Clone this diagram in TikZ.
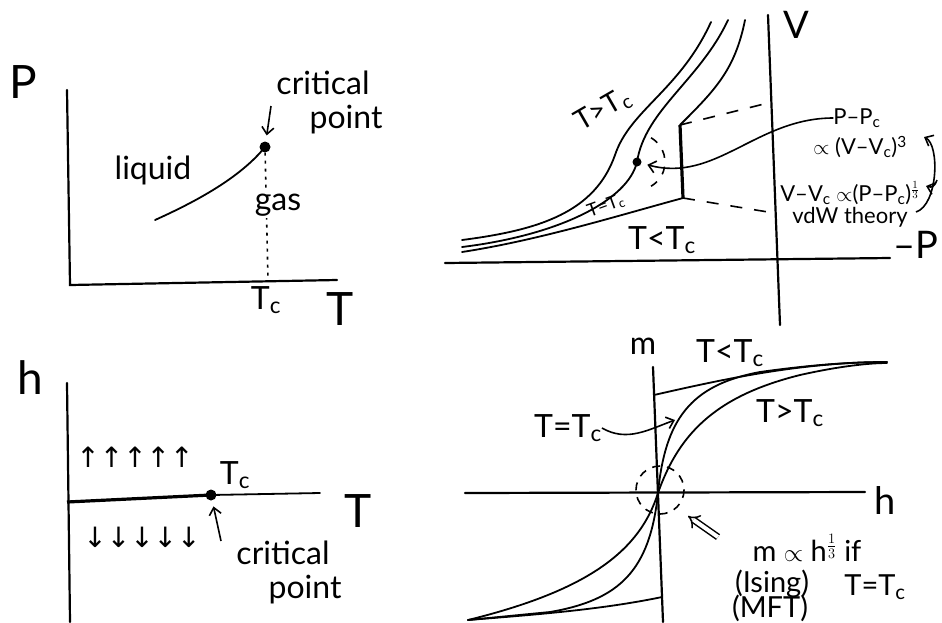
\documentclass[tikz,border=0pt]{standalone}
\usepackage{fontspec}
\setmainfont{Lato}
\newfontfamily\arrowfont{DejaVu Sans}
\usetikzlibrary{arrows.meta,positioning}

\begin{document}
\begin{tikzpicture}[
  x=1pt, y=-1pt,
  font=\fontsize{32}{34}\selectfont,
  inner sep=0pt,
  axis/.style={line width=2.2pt, line cap=round},
  curve/.style={line width=1.8pt, line cap=round},
  jump/.style={line width=3.2pt},
  guide/.style={line width=1.6pt, dash pattern=on 12pt off 12pt},
  dots/.style={line width=1.6pt, dash pattern=on 3pt off 5pt},
  dot/.style={circle, fill=black, minimum size=11pt},
  big/.style={font=\fontsize{46}{48}\selectfont},
  axisname/.style={font=\fontsize{38}{40}\selectfont},
  mid/.style={font=\fontsize{28}{30}\selectfont},
  note/.style={font=\fontsize{29}{31}\selectfont},
  small/.style={font=\fontsize{22}{24}\selectfont},
  tiny/.style={font=\fontsize{18}{20}\selectfont},
  spins/.style={font=\arrowfont\fontsize{28}{30}\selectfont},
  arrow/.style={-{Straight Barb[length=7pt, width=12pt]}, line width=1.6pt}
]
  \useasboundingbox (0,0) rectangle (942,622);

  % P--T plane
  \draw[axis] (67,90) -- (70,285) -- (337,280);
  \node[dot] (cp1) at (265,147) {};
  \draw[curve] (155,220) .. controls (195,202) and (240,178) .. (cp1.center);
  \draw[dots] (cp1) -- (268,280);
  \node[big] (P) at (23,82) {P};
  \node (liquid) at (153,170) {liquid};
  \node[fill=white, inner sep=2pt] (gas) at (278,205) {gas};
  \node (crit1) at (323,83) {critical};
  \node (point1) at (346,120) {point};
  \coordinate (tip1) at (271,106);
  \draw[arrow, shorten >=6pt] (tip1) -- (cp1);
  \node (Tc1) at (266,300) {T\textsubscript{c}};
  \node[big] (T1) at (340,309) {T};

  % isotherms, V against -P
  \draw[axis] (768,15) -- (780,325);
  \draw[axis] (445,263) -- (890,258);
  \node[axisname] (V) at (796,25) {V};
  \node[axisname] (mP) at (916,245) {--P};
  \draw[curve] (711,22) .. controls (680,90) and (630,110) .. (615,155)
    .. controls (595,212) and (540,230) .. (462,240);
  \node[dot, minimum size=9pt] (cp2) at (637,162) {};
  \draw[curve] (728,20) .. controls (700,80) and (645,110) .. (cp2.center)
    .. controls (628,200) and (560,235) .. (462,247);
  \draw[curve] (745,20) .. controls (735,70) and (715,90) .. (680,125);
  \draw[jump] (680,125) -- (683,198);
  \draw[curve] (683,198) .. controls (620,215) and (540,240) .. (462,252);
  \draw[guide] (680,125) -- (768,103);
  \draw[guide] (683,198) -- (768,212);
  \draw[guide, dash pattern=on 8pt off 9pt] (cp2) ++(-60:28) arc[start angle=-60, end angle=60, radius=28];
  \node[mid, rotate=30] (gt2) at (603,110) {T>T\textsubscript{c}};
  \node[tiny, rotate=20] (eq2) at (606,206) {T=T\textsubscript{c}};
  \node (lt2) at (662,240) {T<T\textsubscript{c}};
  \node[small] (ppc) at (857,118) {P--P\textsubscript{c}};
  \node[small] (prop) at (860,147) {$\propto$ (V--V\textsubscript{c})\textsuperscript{3}};
  \node[small] (vvc) at (850,193) {V--V\textsubscript{c} $\propto$(P--P\textsubscript{c})$^{\frac{1}{3}}$};
  \node[small] (vdw) at (850,217) {vdW theory};
  \draw[arrow, shorten >=6pt] (ppc.west) to[out=180, in=-15] (cp2);
  \coordinate (br1) at (916,212);
  \coordinate (br2) at (924,137);
  \coordinate (br3) at (937,180);
  \coordinate (br4) at (926,186);
  \draw[arrow] (br1) .. controls (938,205) and (940,145) .. (br2);
  \draw[arrow] (br3) .. controls (935,186) and (932,188) .. (br4);

  % h--T plane
  \draw[axis] (67,383) -- (70,622);
  \node[dot] (cp3) at (211,495) {};
  \draw[jump] (67,502) -- (cp3.center);
  \draw[curve] (cp3.center) -- (320,493);
  \node[big] (h3) at (30,378) {h};
  \node (Tc3) at (235,475) {T\textsubscript{c}};
  \node[big] (T3) at (358,511) {T};
  \node[spins] (up) at (135,457) {↑↑↑↑↑};
  \node[spins] (down) at (142,537) {↓↓↓↓↓};
  \coordinate (tip3) at (221,541);
  \draw[arrow, shorten >=6pt] (tip3) -- (cp3);
  \node (crit3) at (283,553) {critical};
  \node (point3) at (305,590) {point};

  % m against h
  \draw[axis] (653,367) -- (663,622);
  \draw[axis] (465,493) -- (865,492);
  \coordinate (O) at (658,493);
  \draw[curve] (654,395) .. controls (720,380) and (800,362) .. (887,362);
  \draw[curve] (662,597) .. controls (600,610) and (530,615) .. (468,620);
  \draw[curve] (O) .. controls (665,420) and (690,385) .. (760,372)
    .. controls (810,365) and (850,362) .. (887,362);
  \draw[curve] (O) .. controls (650,570) and (620,600) .. (550,612) -- (468,620);
  \draw[curve] (O) .. controls (680,430) and (720,395) .. (800,375)
    .. controls (840,366) and (870,363) .. (887,363);
  \draw[curve] (O) .. controls (640,550) and (590,590) .. (468,620);
  \draw[guide, dash pattern=on 8pt off 7pt] (660,490) circle[radius=24];
  \node (m) at (643,346) {m};
  \node[axisname] (h4) at (885,500) {h};
  \node (eq4) at (568,428) {T=T\textsubscript{c}};
  \coordinate (tip4) at (675,420);
  \draw[arrow] (eq4.east) to[out=-30, in=200] (tip4);
  \node (lt4) at (730,353) {T<T\textsubscript{c}};
  \node (gt4) at (790,413) {T>T\textsubscript{c}};
  \coordinate (d1) at (718,537);
  \coordinate (d2) at (688,516);
  \draw[double, double distance=4pt, line width=1.5pt, -{Implies}] (d1) -- (d2);
  \node[note] (law) at (807,548) {m $\propto$ h$^{\frac{1}{3}}$ if};
  \node[note] (ising) at (772,584) {(Ising)};
  \node[note] (tcc) at (875,587) {T=T\textsubscript{c}};
  \node[note] (mft) at (770,608) {(MFT)};
\end{tikzpicture}
\end{document}
